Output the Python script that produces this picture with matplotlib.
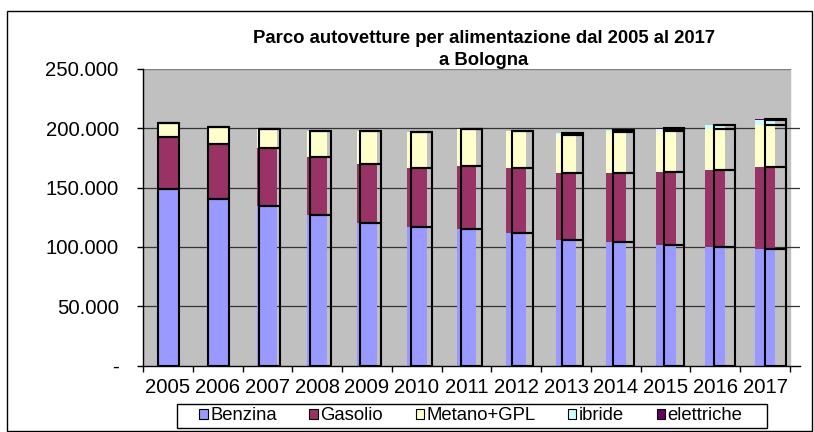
import numpy as np
import matplotlib.pyplot as plt
from matplotlib.patches import Rectangle
from matplotlib.ticker import FuncFormatter

plt.rcParams['font.family'] = ['Liberation Sans', 'DejaVu Sans']

# dati
anni = ['2005', '2006', '2007', '2008', '2009', '2010', '2011',
        '2012', '2013', '2014', '2015', '2016', '2017']
benzina = [148800, 140400, 134700, 126900, 120400, 116500, 114800,
           111400, 106000, 104400, 101800, 100100, 98200]
gasolio = [43600, 46100, 48400, 48600, 49500, 49700, 53400,
           54800, 56000, 58100, 61600, 64700, 69400]
metano_gpl = [11800, 14800, 16300, 22200, 27800, 30600, 30900,
              31500, 32600, 34600, 34500, 34600, 35600]
ibride = [0, 0, 0, 0, 0, 100, 200, 400, 1100, 1200, 1900, 3100, 4200]
elettriche = [0, 0, 0, 0, 0, 0, 0, 0, 100, 100, 150, 200, 300]

serie = [('Benzina', benzina, '#9999FF'),
         ('Gasolio', gasolio, '#993366'),
         ('Metano+GPL', metano_gpl, '#FFFFCC'),
         ('ibride', ibride, '#CCFFFF'),
         ('elettriche', elettriche, '#660066')]

W, H = 814, 432
fig = plt.figure(figsize=(W/100, H/100), dpi=100)
ax = fig.add_axes([143/W, 1-365.5/H, 657/W, 296.5/H])
ax.set_facecolor('white')

x = np.arange(len(anni))
# gray plot area (leaves a thin white strip at the right, like the original)
ax.axvspan(-0.5, 12.5, color='#C0C0C0', zorder=0)

yticks = [0, 50000, 100000, 150000, 200000, 250000]
for t in yticks[1:-1]:
    ax.axhline(t, color='#333333', lw=0.9, zorder=0.5)
ax.plot([-0.5, 12.5], [250000, 250000], color='#808080', lw=1, zorder=0.6)

# filled bars
bottom = np.zeros(len(anni))
for nome, vals, col in serie:
    ax.bar(x, vals, 0.40, bottom=bottom, color=col, label=nome, zorder=2)
    bottom += np.array(vals)

# black outlines, drifting slowly to the right
off = x * 0.016 + 0.01
bottom = np.zeros(len(anni))
for nome, vals, col in serie:
    ax.bar(x + off, vals, 0.42, bottom=bottom, fill=False,
           edgecolor='black', linewidth=1.5, zorder=3)
    bottom += np.array(vals)

ax.set_xlim(-0.5, -0.5 + 657/49.77)
ax.set_ylim(0, 250000)

ax.set_yticks(yticks)
ax.yaxis.set_major_formatter(FuncFormatter(
    lambda v, p: '-' if v == 0 else '{:,.0f}'.format(v).replace(',', '.')))
ax.set_xticks(x)
ax.set_xticklabels(anni)
ax.set_xticks(np.arange(len(anni) + 1) - 0.5, minor=True)
ax.tick_params(axis='x', which='major', length=0, pad=9, labelsize=14.6)
ax.tick_params(axis='x', which='minor', length=4, width=1, color='black')
ax.tick_params(axis='y', length=4.5, width=1, pad=13, labelsize=14.6)

for s in ['top', 'right']:
    ax.spines[s].set_visible(False)
ax.spines['left'].set_linewidth(1)
ax.spines['bottom'].set_linewidth(1)

fig.text(484/W, 1-43.3/H, 'Parco autovetture per alimentazione dal 2005 al 2017',
         ha='center', va='baseline', fontsize=13.3, fontweight='bold')
fig.text(484/W, 1-65/H, 'a Bologna',
         ha='center', va='baseline', fontsize=13.3, fontweight='bold')

leg = fig.legend(loc='center', bbox_to_anchor=(471/W, 1-416/H), ncol=5,
                 frameon=False, fontsize=13.3,
                 handlelength=0.45, handleheight=0.45, handletextpad=0.15,
                 columnspacing=1.75, borderpad=0)
for h in leg.legend_handles:
    h.set_edgecolor('black')
    h.set_linewidth(0.8)

# legend box
fig.patches.append(Rectangle((177/W, 1-428/H), 590/W, 24/H, transform=fig.transFigure,
                             fill=False, edgecolor='black', lw=1))
# outer chart border
fig.patches.append(Rectangle((6.5/W, 1.5/H), 805/W, 419.5/H, transform=fig.transFigure,
                             fill=False, edgecolor='black', lw=1))

fig.savefig('out.png', dpi=100)
